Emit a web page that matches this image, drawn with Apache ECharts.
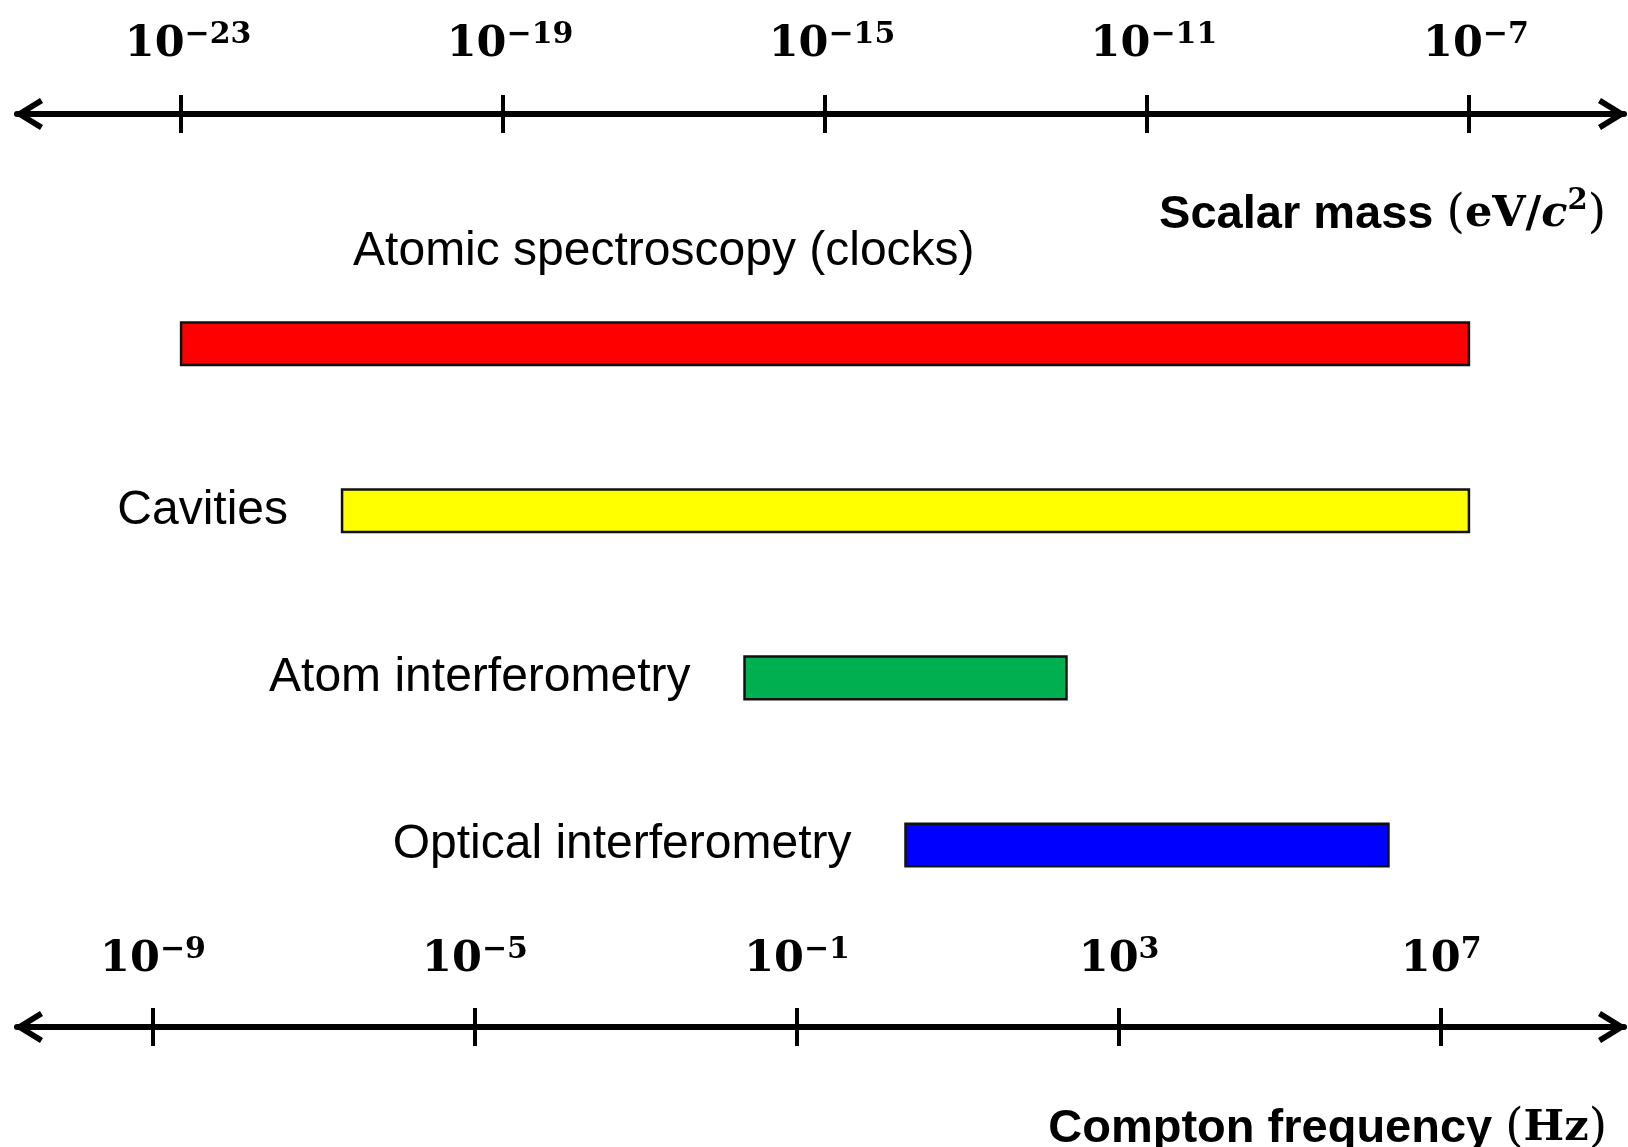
<!DOCTYPE html>
<html><head><meta charset="utf-8">
<script src="https://cdn.jsdelivr.net/npm/echarts@6/dist/echarts.min.js"></script>
<style>html,body{margin:0;padding:0;background:#fff}#c{width:1628px;height:1147px}</style>
</head><body><div id="c"></div>
<script>
// ---- data (log10 exponents) ----
const categories = ['Atomic spectroscopy (clocks)', 'Cavities', 'Atom interferometry', 'Optical interferometry'];
const massLowExp = [-23, -21, -16, -14];   // log10(m / eV c^-2)
const massHighExp = [-7, -7, -12, -8];
const barColors = ['#FF0000', '#FFFF00', '#00B050', '#0000FF'];
const massTicks = [-23, -19, -15, -11, -7];
const freqTicks = [-9, -5, -1, 3, 7];
const massAxisTitle = '{a|Scalar mass }{p|(}{s|eV/}{i|c}{sup|2}{p|)}';
const freqAxisTitle = '{a|Compton frequency }{p|(}{s|Hz}{p|)}';

// ---- layout ----
const MASS_MIN = -25.0385, MASS_MAX = -5.0735;
const FREQ_MIN = -10.689, FREQ_MAX = 9.271;
const ARROW = 'path://M16,0 L32,26 L27,29 L16,11 L5,29 L0,26 Z';
const SERIF = '"DejaVu Serif"';
const SANS = '"Liberation Sans", Arial, sans-serif';

const tickRich = {
  b: {fontFamily: SERIF, fontWeight: 'bold', fontSize: 43, lineHeight: 50, color: '#000'},
  s: {fontFamily: SERIF, fontWeight: 'bold', fontSize: 30, lineHeight: 22, verticalAlign: 'top', color: '#000'}
};
function fmtPow(v) {
  const e = Math.round(v);
  return '{b|10}{s|' + (e < 0 ? '\u2212' + (-e) : String(e)) + '}';
}
const titleRich = {
  a: {fontFamily: SANS, fontWeight: 'bold', fontSize: 47, lineHeight: 56, color: '#000'},
  p: {fontFamily: SERIF, fontWeight: 'normal', fontSize: 47, lineHeight: 56, color: '#000'},
  s: {fontFamily: SERIF, fontWeight: 'bold', fontSize: 43, lineHeight: 56, color: '#000'},
  i: {fontFamily: SERIF, fontWeight: 'bold', fontStyle: 'italic', fontSize: 43, lineHeight: 56, color: '#000'},
  sup: {fontFamily: SERIF, fontWeight: 'bold', fontSize: 29, lineHeight: 40, verticalAlign: 'top', color: '#000'}
};

const rows = categories.map((c, i) => [i, massLowExp[i], massHighExp[i]]);

function axisPair(pos, min, max, ticks, labelInside, labelMargin, labelPad) {
  const main = {
    type: 'value', gridIndex: 0, position: pos, min: min, max: max,
    splitLine: {show: false},
    axisLine: {show: true, onZero: false, lineStyle: {color: '#000', width: 6},
      symbol: [ARROW, ARROW], symbolSize: [32, 29], symbolOffset: [11.5, -11.5]},
    axisTick: {show: true, inside: false, length: 19, customValues: ticks,
      lineStyle: {color: '#000', width: 4}},
    axisLabel: {show: true, inside: labelInside, margin: labelMargin, customValues: ticks,
      padding: labelPad, formatter: fmtPow, rich: tickRich}
  };
  const inner = {
    type: 'value', gridIndex: 0, position: pos, min: min, max: max,
    splitLine: {show: false}, axisLine: {show: false, onZero: false},
    axisTick: {show: true, inside: true, length: 19, customValues: ticks,
      lineStyle: {color: '#000', width: 4}},
    axisLabel: {show: false}
  };
  return [main, inner];
}

const chart = echarts.init(document.getElementById('c'), null, {renderer: 'canvas'});
chart.setOption({
  backgroundColor: '#fff',
  animation: false,
  title: [
    {text: massAxisTitle, right: 22, top: 187, padding: 0, textStyle: {rich: titleRich}},
    {text: freqAxisTitle, right: 21, top: 1101, padding: 0, textStyle: {rich: titleRich}}
  ],
  grid: {left: 17, right: 4, top: 114, bottom: 120, containLabel: false},
  xAxis: [].concat(
    axisPair('top', MASS_MIN, MASS_MAX, massTicks, false, 44, [0, 0, 0, 14]),
    axisPair('bottom', FREQ_MIN, FREQ_MAX, freqTicks, true, 42, 0)
  ),
  yAxis: {type: 'value', gridIndex: 0, inverse: true, min: -1.3746, max: 4.0892, show: false},
  series: [{
    type: 'custom',
    coordinateSystem: 'cartesian2d',
    xAxisIndex: 0, yAxisIndex: 0,
    clip: false,
    encode: {x: [1, 2], y: 0},
    data: rows,
    renderItem: function (params, api) {
      const idx = params.dataIndex;
      const r = api.value(0);
      const p0 = api.coord([api.value(1), r]);
      const p1 = api.coord([api.value(2), r]);
      const h = api.size([0, 0.255])[1];
      const font = '48px ' + SANS;
      const label = idx === 0
        ? {type: 'text', style: {text: categories[idx], x: p0[0] + 172, y: p0[1] - 92,
            align: 'left', verticalAlign: 'middle', font: font, fill: '#000'}}
        : {type: 'text', style: {text: categories[idx], x: p0[0] - 54, y: p0[1],
            align: 'right', verticalAlign: 'middle', font: font, fill: '#000'}};
      return {
        type: 'group',
        children: [
          {type: 'rect', shape: {x: p0[0], y: p0[1] - h / 2, width: p1[0] - p0[0], height: h},
           style: {fill: barColors[idx], stroke: '#111', lineWidth: 2.5}},
          label
        ]
      };
    }
  }]
});
</script>
</body></html>
